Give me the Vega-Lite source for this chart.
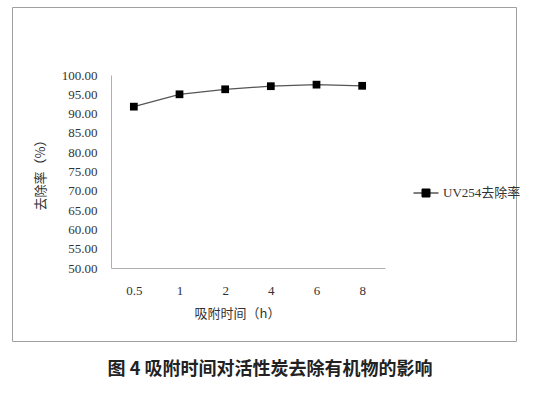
{
  "$schema": "https://vega.github.io/schema/vega-lite/v6.json",
  "width": 504,
  "height": 334,
  "autosize": {"type": "none"},
  "padding": {"left": 12, "top": 7, "right": 28, "bottom": 52},
  "background": "white",
  "title": {
    "text": "图 4  吸附时间对活性炭去除有机物的影响",
    "orient": "bottom",
    "anchor": "middle",
    "frame": "group",
    "offset": 20,
    "dx": 6,
    "font": "Noto Sans CJK SC",
    "fontSize": 18,
    "fontWeight": "bold",
    "color": "#222222"
  },
  "config": {
    "view": {"stroke": "#a0a0a0", "strokeWidth": 1},
    "axis": {
      "grid": false,
      "ticks": false,
      "domainColor": "#b0b0b0",
      "labelFont": "Liberation Serif",
      "labelFontSize": 13,
      "labelColor": "#333333",
      "titleFont": "Noto Sans CJK SC",
      "titleFontSize": 13,
      "titleFontWeight": "normal",
      "titleColor": "#333333"
    }
  },
  "data": {
    "values": [
      {"t": "0.5", "r": 91.8, "s": "UV254去除率"},
      {"t": "1", "r": 95.0, "s": "UV254去除率"},
      {"t": "2", "r": 96.3, "s": "UV254去除率"},
      {"t": "4", "r": 97.1, "s": "UV254去除率"},
      {"t": "6", "r": 97.5, "s": "UV254去除率"},
      {"t": "8", "r": 97.2, "s": "UV254去除率"}
    ]
  },
  "encoding": {
    "x": {
      "field": "t",
      "type": "ordinal",
      "sort": null,
      "scale": {"type": "point", "range": [99, 373], "padding": 0.5},
      "axis": {
        "title": "吸附时间（h）",
        "labelAngle": 0,
        "offset": -73,
        "labelPadding": 16,
        "titlePadding": 10,
        "titleX": 225
      }
    },
    "y": {
      "field": "r",
      "type": "quantitative",
      "scale": {"domain": [50, 100], "range": [261, 68], "zero": false, "nice": false},
      "axis": {
        "title": "去除率（%）",
        "values": [50, 55, 60, 65, 70, 75, 80, 85, 90, 95, 100],
        "format": ".2f",
        "offset": -99,
        "labelPadding": 14,
        "titlePadding": 14
      }
    }
  },
  "layer": [
    {
      "mark": {"type": "line", "color": "#555555", "strokeWidth": 1.2},
      "encoding": {}
    },
    {
      "mark": {"type": "point", "shape": "square", "filled": true, "size": 60, "opacity": 1},
      "encoding": {
        "color": {
          "field": "s",
          "type": "nominal",
          "scale": {"range": ["black"]},
          "legend": {
            "title": null,
            "orient": "none",
            "legendX": 401,
            "legendY": 173,
            "padding": 0,
            "symbolType": "M-1,0H1M-0.32,-0.32H0.32V0.32H-0.32Z",
            "symbolSize": 625,
            "symbolStrokeColor": "black",
            "symbolFillColor": "black",
            "symbolStrokeWidth": 1,
            "labelFont": "Liberation Serif, Noto Sans CJK SC",
            "labelFontSize": 13,
            "labelColor": "#333333",
            "labelOffset": 4
          }
        }
      }
    }
  ]
}
